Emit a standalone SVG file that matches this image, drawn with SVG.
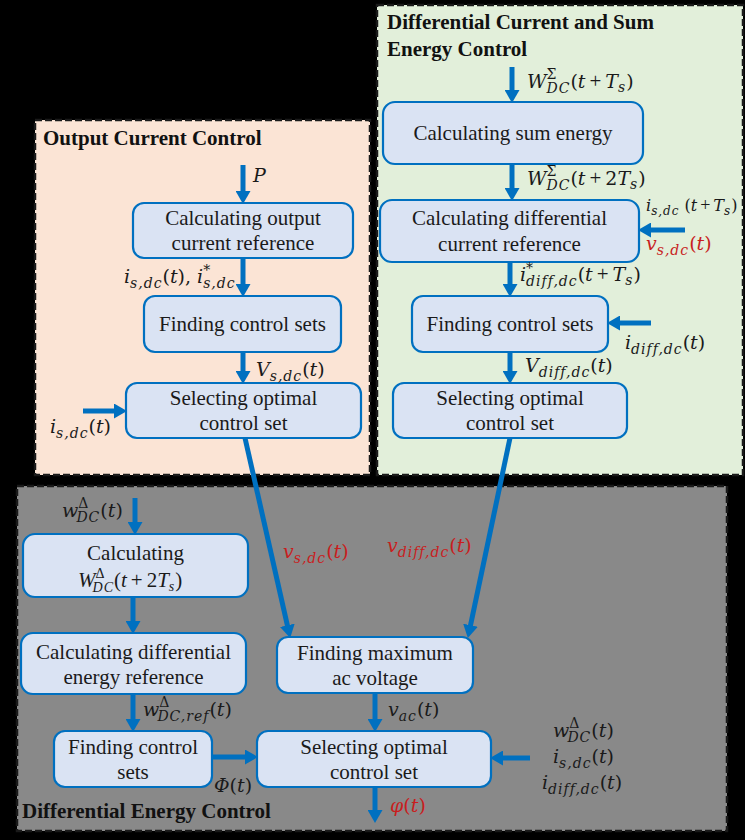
<svg xmlns="http://www.w3.org/2000/svg" width="745" height="840" viewBox="0 0 745 840">
  <style>
    .panel { stroke: #1a1a1a; stroke-width: 2.5; stroke-dasharray: 7 3; }
    .node rect { fill: #DAE3F3; stroke: #0070C0; stroke-width: 2.2; }
    .node text { font-family: "Liberation Serif", "Times New Roman", serif; font-size: 21px; fill: #1a1a1a; text-anchor: middle; }
    .title { font-family: "Liberation Serif", "Times New Roman", serif; font-size: 21px; font-weight: bold; fill: #111; }
    .m { font-family: "DejaVu Serif", serif; font-style: italic; font-size: 19px; fill: #1a1a1a; }
    .red { fill: #C81E1E; }
    .s { font-size: 14px; letter-spacing: 1px; }
    .p { font-size: 14px; font-style: normal; }
    .u { font-style: normal; }
    .op { font-family: "Liberation Serif", serif; font-style: normal; font-size: 21px; }
    .wire { stroke: #0070C0; stroke-width: 5; fill: none; marker-end: url(#head); }
  </style>
  <defs>
    <marker id="head" markerUnits="userSpaceOnUse" markerWidth="14" markerHeight="15" refX="2" refY="7.5" orient="auto">
      <path d="M0,0 L13,7.5 L0,15 z" fill="#0070C0"/>
    </marker>
  </defs>

  <!-- background and the three control panels -->
  <rect x="0" y="0" width="745" height="840" fill="#000"/>
  <rect class="panel" x="35" y="120" width="335" height="355" fill="#FBE4D5"/>
  <rect class="panel" x="377" y="5" width="366" height="470" fill="#E2EFDA"/>
  <rect class="panel" x="17" y="486" width="710" height="345" fill="#898989"/>

  <text class="title" x="43" y="145">Output Current Control</text>
  <text class="title" x="387" y="29">Differential Current and Sum</text>
  <text class="title" x="387" y="56">Energy Control</text>
  <text class="title" x="22" y="818">Differential Energy Control</text>

  <!-- output current control -->
  <g id="n-out-ref" class="node">
    <rect x="133" y="203" width="220" height="55" rx="11"/>
    <text x="243" y="225">Calculating output</text>
    <text x="243" y="250">current reference</text>
  </g>
  <g id="n-out-sets" class="node">
    <rect x="144" y="296" width="197" height="56" rx="11"/>
    <text x="242.5" y="331">Finding control sets</text>
  </g>
  <g id="n-out-select" class="node">
    <rect x="126" y="383" width="235" height="55" rx="11"/>
    <text x="243.5" y="405">Selecting optimal</text>
    <text x="243.5" y="430">control set</text>
  </g>

  <!-- differential current and sum energy control -->
  <g id="n-sum-energy" class="node">
    <rect x="383" y="102" width="260" height="62" rx="12"/>
    <text x="513" y="140">Calculating sum energy</text>
  </g>
  <g id="n-diff-ref" class="node">
    <rect x="380" y="200" width="259" height="62" rx="12"/>
    <text x="509.5" y="225">Calculating differential</text>
    <text x="509.5" y="251">current reference</text>
  </g>
  <g id="n-diff-sets" class="node">
    <rect x="412" y="296" width="196" height="56" rx="11"/>
    <text x="510" y="331">Finding control sets</text>
  </g>
  <g id="n-diff-select" class="node">
    <rect x="393" y="383" width="234" height="55" rx="11"/>
    <text x="510" y="405">Selecting optimal</text>
    <text x="510" y="430">control set</text>
  </g>

  <!-- differential energy control -->
  <g id="n-energy-pred" class="node">
    <rect x="23" y="534" width="225" height="63" rx="12"/>
    <text x="135.5" y="560">Calculating</text>
    <text class="m" x="78" y="587" style="text-anchor:start">W<tspan class="p" dy="-9">Δ</tspan><tspan class="s" dx="-12" dy="14">DC</tspan><tspan class="u" dy="-5">(</tspan>t<tspan class="op" dx="4">+</tspan><tspan class="u" dx="4">2</tspan>T<tspan class="s" dy="4">s</tspan><tspan class="u" dy="-4">)</tspan></text>
  </g>
  <g id="n-energy-ref" class="node">
    <rect x="21" y="633" width="225" height="61" rx="12"/>
    <text x="133.5" y="659">Calculating differential</text>
    <text x="133.5" y="684">energy reference</text>
  </g>
  <g id="n-energy-sets" class="node">
    <rect x="54" y="731" width="158" height="56" rx="11"/>
    <text x="133" y="754">Finding control</text>
    <text x="133" y="779">sets</text>
  </g>
  <g id="n-max-ac" class="node">
    <rect x="277" y="637" width="196" height="56" rx="11"/>
    <text x="375" y="660">Finding maximum</text>
    <text x="375" y="685">ac voltage</text>
  </g>
  <g id="n-final-select" class="node">
    <rect x="257" y="731" width="234" height="56" rx="11"/>
    <text x="374" y="754">Selecting optimal</text>
    <text x="374" y="779">control set</text>
  </g>

  <!-- connectors -->
  <g id="connectors">
    <line class="wire" x1="243" y1="165" x2="243" y2="193"/>
    <line class="wire" x1="243" y1="258" x2="243" y2="286"/>
    <line class="wire" x1="243" y1="352" x2="243" y2="373"/>
    <line class="wire" x1="83" y1="411" x2="116" y2="411"/>
    <line class="wire" x1="245" y1="438" x2="287.8" y2="627.2"/>

    <line class="wire" x1="512" y1="67" x2="512" y2="92"/>
    <line class="wire" x1="512" y1="164" x2="512" y2="190"/>
    <line class="wire" x1="685" y1="230" x2="649" y2="230"/>
    <line class="wire" x1="510" y1="262" x2="510" y2="286"/>
    <line class="wire" x1="651" y1="323" x2="618" y2="323"/>
    <line class="wire" x1="510" y1="352" x2="510" y2="373"/>
    <line class="wire" x1="510" y1="438" x2="470.1" y2="627.2"/>

    <line class="wire" x1="135" y1="498" x2="135" y2="524"/>
    <line class="wire" x1="133" y1="597" x2="133" y2="623"/>
    <line class="wire" x1="133" y1="694" x2="133" y2="721"/>
    <line class="wire" x1="212" y1="757" x2="247" y2="757"/>
    <line class="wire" x1="375" y1="693" x2="375" y2="721"/>
    <line class="wire" x1="530" y1="758" x2="501" y2="758"/>
    <line class="wire" x1="375" y1="787" x2="375" y2="812"/>
  </g>

  <!-- signal labels -->
  <g id="labels">
    <text class="m" x="253" y="182">P</text>
    <text class="m" x="124" y="283">i<tspan class="s" dy="5">s,dc</tspan><tspan class="u" dy="-5">(</tspan>t<tspan class="u">),</tspan> i<tspan class="p" dy="-8">*</tspan><tspan class="s" dx="-7" dy="13">s,dc</tspan></text>
    <text class="m" x="256" y="376">V<tspan class="s" dy="5">s,dc</tspan><tspan class="u" dy="-5">(</tspan>t<tspan class="u">)</tspan></text>
    <text class="m" x="50" y="433">i<tspan class="s" dy="5">s,dc</tspan><tspan class="u" dy="-5">(</tspan>t<tspan class="u">)</tspan></text>

    <text class="m" x="527" y="88">W<tspan class="p" dy="-9">Σ</tspan><tspan class="s" dx="-10" dy="14">DC</tspan><tspan class="u" dy="-5">(</tspan>t<tspan class="op" dx="4">+</tspan><tspan dx="4">T</tspan><tspan class="s" dy="4">s</tspan><tspan class="u" dy="-4">)</tspan></text>
    <text class="m" x="527" y="185">W<tspan class="p" dy="-9">Σ</tspan><tspan class="s" dx="-10" dy="14">DC</tspan><tspan class="u" dy="-5">(</tspan>t<tspan class="op" dx="4">+</tspan><tspan class="u" dx="4">2</tspan>T<tspan class="s" dy="4">s</tspan><tspan class="u" dy="-4">)</tspan></text>
    <text class="m" x="646" y="211" style="font-size:16px">i<tspan class="s" dy="4" style="font-size:12px">s,dc</tspan><tspan class="u" dy="-4" dx="5">(</tspan>t<tspan class="op" dx="3" style="font-size:18px">+</tspan><tspan dx="3">T</tspan><tspan class="s" dy="4" style="font-size:12px">s</tspan><tspan class="u" dy="-4">)</tspan></text>
    <text class="m red" x="646" y="250">v<tspan class="s" dy="5">s,dc</tspan><tspan class="u" dy="-5">(</tspan>t<tspan class="u">)</tspan></text>
    <text class="m" x="520" y="281">i<tspan class="p" dy="-8">*</tspan><tspan class="s" dx="-7" dy="13">diff,dc</tspan><tspan class="u" dy="-5">(</tspan>t<tspan class="op" dx="4">+</tspan><tspan dx="4">T</tspan><tspan class="s" dy="4">s</tspan><tspan class="u" dy="-4">)</tspan></text>
    <text class="m" x="625" y="349">i<tspan class="s" dy="5">diff,dc</tspan><tspan class="u" dy="-5">(</tspan>t<tspan class="u">)</tspan></text>
    <text class="m" x="525" y="372">V<tspan class="s" dy="5">diff,dc</tspan><tspan class="u" dy="-5">(</tspan>t<tspan class="u">)</tspan></text>

    <text class="m" x="62" y="517">w<tspan class="p" dy="-9">Δ</tspan><tspan class="s" dx="-12" dy="14">DC</tspan><tspan class="u" dy="-5">(</tspan>t<tspan class="u">)</tspan></text>
    <text class="m" x="143" y="716">w<tspan class="p" dy="-9">Δ</tspan><tspan class="s" dx="-12" dy="14">DC,ref</tspan><tspan class="u" dy="-5">(</tspan>t<tspan class="u">)</tspan></text>
    <text class="m" x="214" y="792">Φ<tspan class="u">(</tspan>t<tspan class="u">)</tspan></text>
    <text class="m red" x="283" y="558">v<tspan class="s" dy="5">s,dc</tspan><tspan class="u" dy="-5">(</tspan>t<tspan class="u">)</tspan></text>
    <text class="m red" x="387" y="552">v<tspan class="s" dy="5">diff,dc</tspan><tspan class="u" dy="-5">(</tspan>t<tspan class="u">)</tspan></text>
    <text class="m" x="388" y="716">v<tspan class="s" dy="5">ac</tspan><tspan class="u" dy="-5">(</tspan>t<tspan class="u">)</tspan></text>
    <text class="m" x="553" y="737">w<tspan class="p" dy="-9">Δ</tspan><tspan class="s" dx="-12" dy="14">DC</tspan><tspan class="u" dy="-5">(</tspan>t<tspan class="u">)</tspan></text>
    <text class="m" x="553" y="763">i<tspan class="s" dy="5">s,dc</tspan><tspan class="u" dy="-5">(</tspan>t<tspan class="u">)</tspan></text>
    <text class="m" x="542" y="789">i<tspan class="s" dy="5">diff,dc</tspan><tspan class="u" dy="-5">(</tspan>t<tspan class="u">)</tspan></text>
    <text class="m red" x="390" y="812">φ<tspan class="u">(</tspan>t<tspan class="u">)</tspan></text>
  </g>
</svg>
